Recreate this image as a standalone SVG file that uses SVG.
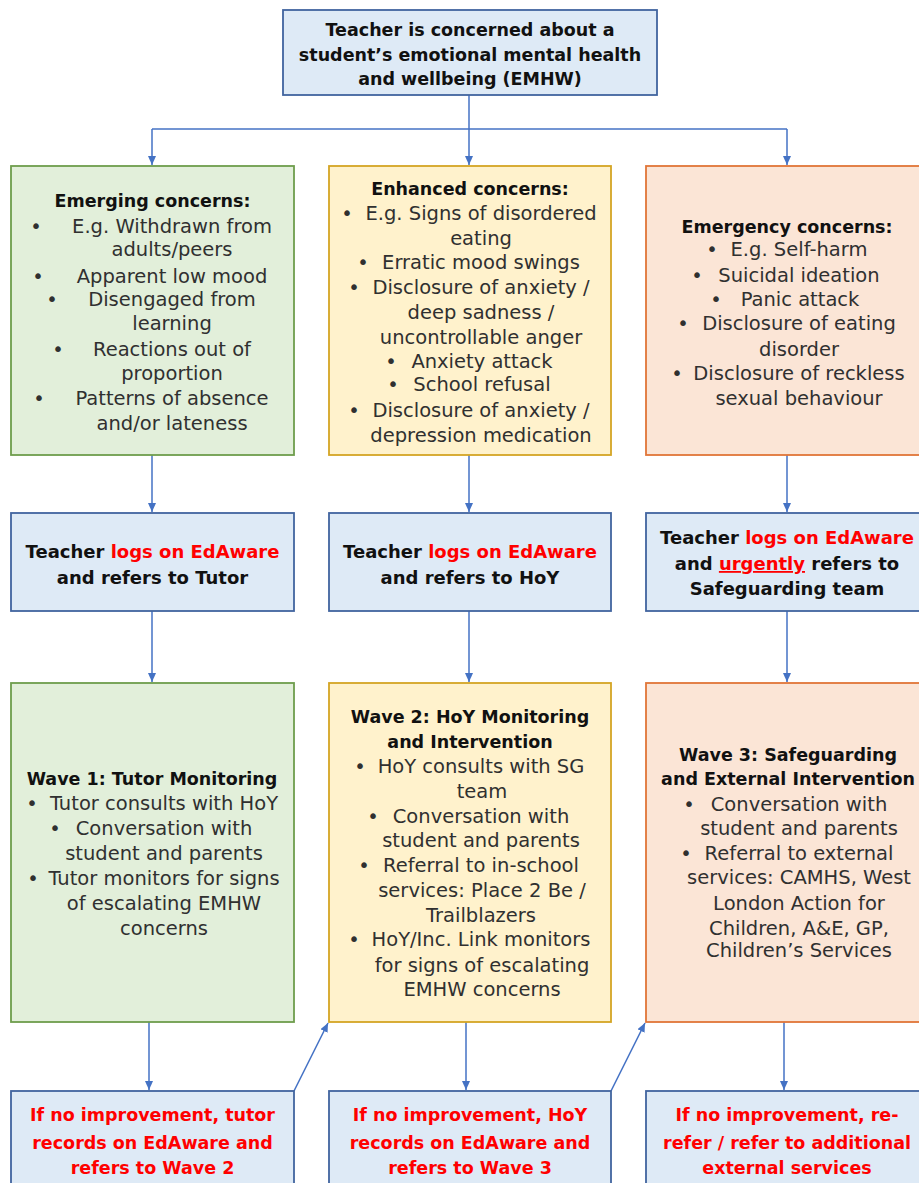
<svg xmlns="http://www.w3.org/2000/svg" width="919" height="1183" viewBox="0 0 919 1183">
<style>
.blue{fill:#DEEAF6;stroke:#41649F;stroke-width:1.8}
.green{fill:#E2EFDA;stroke:#6E9D4C;stroke-width:1.8}
.yellow{fill:#FFF2CC;stroke:#D4A524;stroke-width:1.8}
.orange{fill:#FBE5D6;stroke:#E07538;stroke-width:1.8}
text{font-family:"DejaVu Sans","Liberation Sans",sans-serif;text-anchor:middle}
.b{font-size:18px;font-weight:bold;fill:#111}
.top{font-size:17.5px;font-weight:bold;fill:#111}
.h{font-size:17.5px;font-weight:bold;fill:#111}
.t{font-size:19.5px;fill:#303030}
.r{fill:#FF0000}
.red{font-size:17.5px;font-weight:bold;fill:#FF0000}
.conn line{stroke:#4472C4;stroke-width:1.5;fill:none}
</style>
<defs>
<marker id="arr" markerUnits="userSpaceOnUse" markerWidth="10" markerHeight="10" refX="9" refY="4" orient="auto">
<path d="M0,0 L9,4 L0,8 z" fill="#4472C4"/>
</marker>
</defs>
<rect width="919" height="1183" fill="#FFFFFF"/>

<g class="conn">
<line x1="469" y1="95" x2="469" y2="165" marker-end="url(#arr)"/>
<line x1="152" y1="129" x2="787" y2="129"/>
<line x1="152" y1="129" x2="152" y2="165" marker-end="url(#arr)"/>
<line x1="787" y1="129" x2="787" y2="165" marker-end="url(#arr)"/>
<line x1="152" y1="455" x2="152" y2="512" marker-end="url(#arr)"/>
<line x1="469" y1="455" x2="469" y2="512" marker-end="url(#arr)"/>
<line x1="787" y1="455" x2="787" y2="512" marker-end="url(#arr)"/>
<line x1="152" y1="611" x2="152" y2="682" marker-end="url(#arr)"/>
<line x1="469" y1="611" x2="469" y2="682" marker-end="url(#arr)"/>
<line x1="787" y1="611" x2="787" y2="682" marker-end="url(#arr)"/>
<line x1="149" y1="1022" x2="149" y2="1090" marker-end="url(#arr)"/>
<line x1="466" y1="1022" x2="466" y2="1090" marker-end="url(#arr)"/>
<line x1="784" y1="1022" x2="784" y2="1090" marker-end="url(#arr)"/>
<line x1="294" y1="1091" x2="328" y2="1023" marker-end="url(#arr)"/>
<line x1="611" y1="1091" x2="645" y2="1023" marker-end="url(#arr)"/>
</g>

<g id="start">
<rect class="blue" x="283" y="10" width="374" height="85"/>
<text class="top" x="470" y="36">Teacher is concerned about a</text>
<text class="top" x="470" y="61">student’s emotional mental health</text>
<text class="top" x="470" y="85">and wellbeing (EMHW)</text>
</g>

<g id="emerging">
<rect class="green" x="11" y="166" width="283" height="289"/>
<text class="h" x="152.5" y="207">Emerging concerns:</text>
<text class="t" x="36" y="233">•</text><text class="t" x="172" y="233">E.g. Withdrawn from</text>
<text class="t" x="172" y="256">adults/peers</text>
<text class="t" x="38" y="283">•</text><text class="t" x="172" y="283">Apparent low mood</text>
<text class="t" x="52" y="306">•</text><text class="t" x="172" y="306">Disengaged from</text>
<text class="t" x="58" y="356">•</text><text class="t" x="172" y="356">Reactions out of</text>
<text class="t" x="172" y="330">learning</text>
<text class="t" x="172" y="380">proportion</text>
<text class="t" x="39" y="405">•</text><text class="t" x="172" y="405">Patterns of absence</text>
<text class="t" x="172" y="430">and/or lateness</text>
</g>

<g id="enhanced">
<rect class="yellow" x="329" y="166" width="282" height="289"/>
<text class="h" x="470" y="195">Enhanced concerns:</text>
<text class="t" x="347" y="220">•</text><text class="t" x="481" y="220">E.g. Signs of disordered</text>
<text class="t" x="481" y="245">eating</text>
<text class="t" x="363" y="269">•</text><text class="t" x="481" y="269">Erratic mood swings</text>
<text class="t" x="354" y="294">•</text><text class="t" x="481" y="294">Disclosure of anxiety /</text>
<text class="t" x="481" y="319">deep sadness /</text>
<text class="t" x="481" y="344">uncontrollable anger</text>
<text class="t" x="391" y="368">•</text><text class="t" x="482" y="368">Anxiety attack</text>
<text class="t" x="393" y="391">•</text><text class="t" x="482" y="391">School refusal</text>
<text class="t" x="354" y="417">•</text><text class="t" x="481" y="417">Disclosure of anxiety /</text>
<text class="t" x="481" y="442">depression medication</text>
</g>

<g id="emergency">
<rect class="orange" x="646" y="166" width="282" height="289"/>
<text class="h" x="787" y="233">Emergency concerns:</text>
<text class="t" x="712" y="256">•</text><text class="t" x="799" y="256">E.g. Self-harm</text>
<text class="t" x="697" y="282">•</text><text class="t" x="799" y="282">Suicidal ideation</text>
<text class="t" x="716" y="306">•</text><text class="t" x="800" y="306">Panic attack</text>
<text class="t" x="683" y="330">•</text><text class="t" x="799" y="330">Disclosure of eating</text>
<text class="t" x="799" y="356">disorder</text>
<text class="t" x="677" y="380">•</text><text class="t" x="799" y="380">Disclosure of reckless</text>
<text class="t" x="799" y="405">sexual behaviour</text>
</g>

<g id="log-tutor">
<rect class="blue" x="11" y="513" width="283" height="98"/>
<text class="b" x="152.5" y="558">Teacher <tspan class="r">logs on EdAware</tspan></text>
<text class="b" x="152.5" y="584">and refers to Tutor</text>
</g>

<g id="log-hoy">
<rect class="blue" x="329" y="513" width="282" height="98"/>
<text class="b" x="470" y="558">Teacher <tspan class="r">logs on EdAware</tspan></text>
<text class="b" x="470" y="584">and refers to HoY</text>
</g>

<g id="log-sg">
<rect class="blue" x="646" y="513" width="282" height="98"/>
<text class="b" x="787" y="544">Teacher <tspan class="r">logs on EdAware</tspan></text>
<text class="b" x="787" y="570">and <tspan class="r" text-decoration="underline">urgently</tspan> refers to</text>
<text class="b" x="787" y="595">Safeguarding team</text>
</g>

<g id="wave1">
<rect class="green" x="11" y="683" width="283" height="339"/>
<text class="h" x="152" y="785">Wave 1: Tutor Monitoring</text>
<text class="t" x="32" y="810">•</text><text class="t" x="164" y="810">Tutor consults with HoY</text>
<text class="t" x="55" y="835">•</text><text class="t" x="164" y="835">Conversation with</text>
<text class="t" x="164" y="860">student and parents</text>
<text class="t" x="33" y="885">•</text><text class="t" x="164" y="885">Tutor monitors for signs</text>
<text class="t" x="164" y="910">of escalating EMHW</text>
<text class="t" x="164" y="935">concerns</text>
</g>

<g id="wave2">
<rect class="yellow" x="329" y="683" width="282" height="339"/>
<text class="h" x="470" y="723">Wave 2: HoY Monitoring</text>
<text class="h" x="470" y="748">and Intervention</text>
<text class="t" x="360" y="773">•</text><text class="t" x="481" y="773">HoY consults with SG</text>
<text class="t" x="482" y="798">team</text>
<text class="t" x="373" y="823">•</text><text class="t" x="481" y="823">Conversation with</text>
<text class="t" x="481" y="847">student and parents</text>
<text class="t" x="364" y="872">•</text><text class="t" x="481" y="872">Referral to in-school</text>
<text class="t" x="482" y="897">services: Place 2 Be /</text>
<text class="t" x="481" y="922">Trailblazers</text>
<text class="t" x="354" y="946">•</text><text class="t" x="481" y="946">HoY/Inc. Link monitors</text>
<text class="t" x="482" y="972">for signs of escalating</text>
<text class="t" x="482" y="996">EMHW concerns</text>
</g>

<g id="wave3">
<rect class="orange" x="646" y="683" width="282" height="339"/>
<text class="h" x="788" y="761">Wave 3: Safeguarding</text>
<text class="h" x="788" y="785">and External Intervention</text>
<text class="t" x="689" y="811">•</text><text class="t" x="799" y="811">Conversation with</text>
<text class="t" x="799" y="835">student and parents</text>
<text class="t" x="686" y="860">•</text><text class="t" x="799" y="860">Referral to external</text>
<text class="t" x="799" y="884">services: CAMHS, West</text>
<text class="t" x="799" y="910">London Action for</text>
<text class="t" x="799" y="935">Children, A&amp;E, GP,</text>
<text class="t" x="799" y="957">Children’s Services</text>
</g>

<g id="escalate1">
<rect class="blue" x="11" y="1091" width="283" height="100"/>
<text class="red" x="152.5" y="1121">If no improvement, tutor</text>
<text class="red" x="152.5" y="1149">records on EdAware and</text>
<text class="red" x="152.5" y="1174">refers to Wave 2</text>
</g>

<g id="escalate2">
<rect class="blue" x="329" y="1091" width="282" height="100"/>
<text class="red" x="470" y="1121">If no improvement, HoY</text>
<text class="red" x="470" y="1149">records on EdAware and</text>
<text class="red" x="470" y="1174">refers to Wave 3</text>
</g>

<g id="escalate3">
<rect class="blue" x="646" y="1091" width="282" height="100"/>
<text class="red" x="787" y="1121">If no improvement, re-</text>
<text class="red" x="787" y="1149">refer / refer to additional</text>
<text class="red" x="787" y="1174">external services</text>
</g>
</svg>
